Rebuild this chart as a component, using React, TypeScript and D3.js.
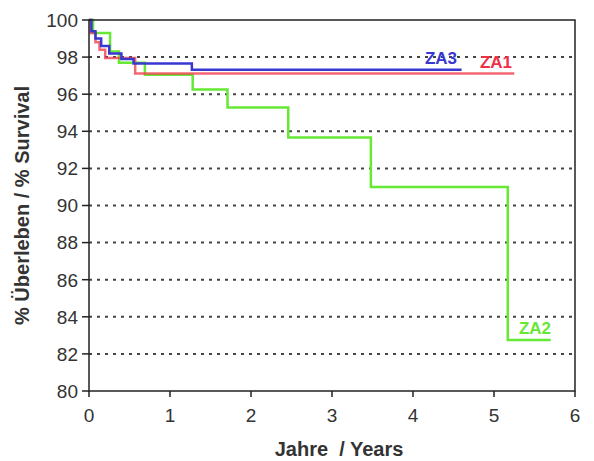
import React from "react";
import * as d3 from "d3";

const xTicks = [0, 1, 2, 3, 4, 5, 6];
const yTicks = [80, 82, 84, 86, 88, 90, 92, 94, 96, 98, 100];
const gridValues = [82, 84, 86, 88, 90, 92, 94, 96, 98];

// step points: [years, survival %]
const za2Times = [0, 0.05, 0.26, 0.37, 0.69, 1.28, 1.71, 2.46, 3.48, 5.17, 5.7];
const za2Values = [100, 99.3, 98.3, 97.7, 97.05, 96.26, 95.28, 93.66, 91.0, 82.75, 82.75];

const za1Times = [0, 0.02, 0.08, 0.13, 0.2, 0.57, 5.25];
const za1Values = [100, 99.3, 98.8, 98.4, 97.95, 97.12, 97.12];

const za3Times = [0, 0.03, 0.08, 0.15, 0.25, 0.4, 0.55, 1.27, 4.6];
const za3Values = [100, 99.4, 99.0, 98.6, 98.2, 97.9, 97.65, 97.32, 97.32];

const series = [
  { name: "ZA2", times: za2Times, values: za2Values, color: "#66e834" },
  { name: "ZA1", times: za1Times, values: za1Values, color: "#f04050" },
  { name: "ZA3", times: za3Times, values: za3Values, color: "#3838d0" },
];

const W = 594, H = 461;
const left = 89, right = 575, top = 20, bottom = 391;

export default function App() {
  const x = d3.scaleLinear().domain([0, 6]).range([left, right]);
  const y = d3.scaleLinear().domain([80, 100]).range([bottom, top]);
  const line = d3.line<[number, number]>().x(d => x(d[0])).y(d => y(d[1])).curve(d3.curveStepAfter);
  const font = "'Liberation Sans', Arial, sans-serif";
  return (
    <svg width={W} height={H} style={{ position: "absolute", left: 0, top: 0, background: "#fff" }} fontFamily={font}>
      {gridValues.map(v => (
        <line key={v} x1={left} x2={right} y1={y(v)} y2={y(v)} stroke="#444" strokeWidth={2} strokeDasharray="3,5" />
      ))}
      {series.map(s => (
        <path key={s.name} d={line(s.times.map((t, i) => [t, s.values[i]]) as [number, number][]) || ""}
          fill="none" stroke={s.color} strokeWidth={2.5} opacity={s.name === "ZA1" ? 0.8 : 1} />
      ))}
      <rect x={left} y={top} width={right - left} height={bottom - top} fill="none" stroke="#222" strokeWidth={1.5} />
      {yTicks.map(v => (
        <g key={v}>
          <line x1={left - 7} x2={left} y1={y(v)} y2={y(v)} stroke="#222" strokeWidth={1.5} />
          <text x={left - 11} y={y(v)} dy="0.36em" textAnchor="end" fontSize={19} fill="#333">{v}</text>
        </g>
      ))}
      {xTicks.map(v => (
        <g key={v}>
          <line x1={x(v)} x2={x(v)} y1={bottom} y2={bottom + 6} stroke="#222" strokeWidth={1.5} />
          <text x={x(v)} y={bottom + 31} textAnchor="middle" fontSize={19} fill="#333">{v}</text>
        </g>
      ))}
      <text x={339} y={456} textAnchor="middle" fontSize={20} fontWeight="bold" fill="#333" style={{ whiteSpace: "pre" }}>{"Jahre  / Years"}</text>
      <text transform={`translate(29, ${(top + bottom) / 2}) rotate(-90)`} textAnchor="middle" fontSize={20} fontWeight="bold" fill="#333">% Überleben / % Survival</text>
      <text x={441} y={64} textAnchor="middle" fontSize={17} fontWeight="bold" fill="#3838d0">ZA3</text>
      <text x={496} y={68} textAnchor="middle" fontSize={17} fontWeight="bold" fill="#f03048">ZA1</text>
      <text x={535} y={334} textAnchor="middle" fontSize={17} fontWeight="bold" fill="#66e834">ZA2</text>
    </svg>
  );
}
